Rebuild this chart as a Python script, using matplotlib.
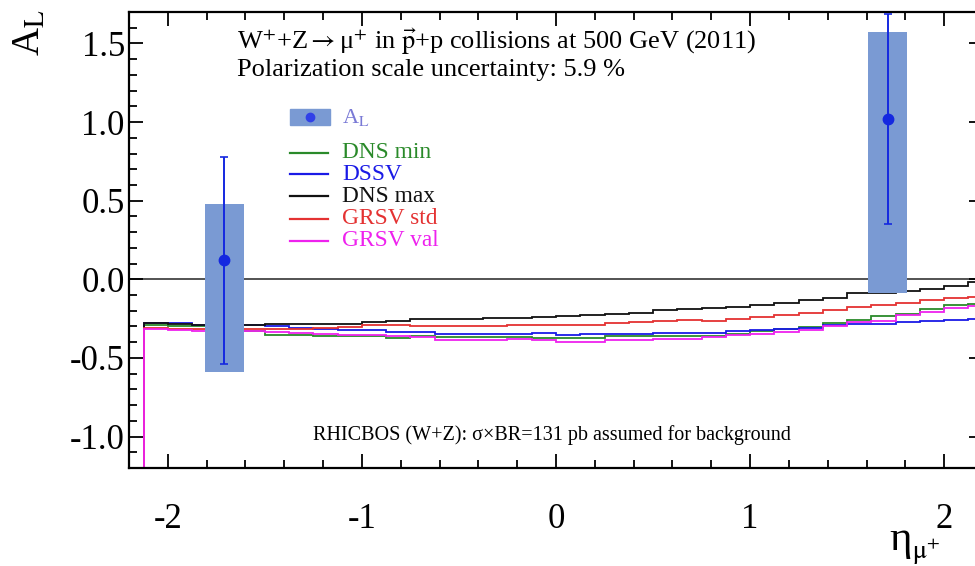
import matplotlib
matplotlib.use('Agg')
import matplotlib.pyplot as plt
from matplotlib.lines import Line2D
from matplotlib.patches import Rectangle
from matplotlib.ticker import MultipleLocator, FormatStrFormatter

plt.rcParams['font.family'] = ['Liberation Serif', 'DejaVu Serif']
plt.rcParams['mathtext.fontset'] = 'stix'

# ---------------- data ----------------
bin_edges = [-2.125, -2.0, -1.875, -1.75, -1.625, -1.5, -1.375, -1.25, -1.125, -1.0,
             -0.875, -0.75, -0.625, -0.5, -0.375, -0.25, -0.125, 0.0, 0.125, 0.25,
             0.375, 0.5, 0.625, 0.75, 0.875, 1.0, 1.125, 1.25, 1.375, 1.5,
             1.625, 1.75, 1.875, 2.0, 2.125, 2.25]

dns_max = [-0.280, -0.285, -0.290, -0.295, -0.293, -0.287, -0.285, -0.283, -0.282, -0.272,
           -0.265, -0.255, -0.255, -0.255, -0.244, -0.244, -0.240, -0.236, -0.229, -0.219,
           -0.212, -0.197, -0.190, -0.185, -0.175, -0.166, -0.149, -0.134, -0.117, -0.090,
           -0.087, -0.074, -0.060, -0.045, -0.020]
grsv_std = [-0.310, -0.315, -0.315, -0.315, -0.314, -0.314, -0.314, -0.310, -0.305, -0.293,
            -0.293, -0.300, -0.300, -0.300, -0.295, -0.289, -0.289, -0.293, -0.290, -0.276,
            -0.274, -0.268, -0.261, -0.262, -0.250, -0.240, -0.225, -0.212, -0.197, -0.176,
            -0.161, -0.149, -0.129, -0.117, -0.113]
dssv = [-0.275, -0.280, -0.290, -0.295, -0.293, -0.300, -0.310, -0.315, -0.320, -0.320,
        -0.335, -0.335, -0.346, -0.346, -0.346, -0.346, -0.342, -0.352, -0.350, -0.346,
        -0.346, -0.340, -0.340, -0.340, -0.330, -0.325, -0.314, -0.308, -0.293, -0.287,
        -0.282, -0.272, -0.268, -0.257, -0.255]
dns_min = [-0.290, -0.295, -0.300, -0.310, -0.330, -0.357, -0.357, -0.360, -0.363, -0.363,
           -0.371, -0.363, -0.367, -0.367, -0.367, -0.367, -0.371, -0.371, -0.371, -0.361,
           -0.361, -0.360, -0.358, -0.360, -0.346, -0.331, -0.318, -0.304, -0.278, -0.257,
           -0.236, -0.219, -0.187, -0.166, -0.155]
grsv_val = [-0.315, -0.320, -0.330, -0.335, -0.330, -0.335, -0.340, -0.345, -0.357, -0.357,
            -0.360, -0.365, -0.384, -0.389, -0.385, -0.380, -0.389, -0.399, -0.399, -0.389,
            -0.389, -0.378, -0.378, -0.367, -0.352, -0.346, -0.335, -0.320, -0.300, -0.272,
            -0.265, -0.229, -0.208, -0.180, -0.172]

eta_pts = [-1.71, 1.71]
al_pts = [0.12, 1.02]
stat_err = [0.66, 0.67]
sys_low = [-0.59, -0.09]
sys_high = [0.48, 1.57]

curve_names = ['DNS min', 'DSSV', 'DNS max', 'GRSV std', 'GRSV val']
curve_data = [dns_min, dssv, dns_max, grsv_std, grsv_val]
curve_colors = ['#2a8a2a', '#1a1ae6', '#111111', '#e43232', '#ee22ee']

x_ticks = [-2, -1, 0, 1, 2]
y_ticks = [-1.0, -0.5, 0.0, 0.5, 1.0, 1.5]

# ---------------- figure ----------------
W, H = 975, 566
fig = plt.figure(figsize=(W / 100, H / 100), dpi=100)
ax_l, ax_r, ax_t, ax_b = 129, 983, 12, 468
ax = fig.add_axes([ax_l / W, 1 - ax_b / H, (ax_r - ax_l) / W, (ax_b - ax_t) / H])
ax.set_xlim(-2.2, 2.2)
ax.set_ylim(-1.2, 1.7)

ax.axhline(0, color='#444444', lw=1.3, zorder=1)

for vals, col in zip(curve_data, curve_colors):
    ax.stairs(vals, bin_edges, baseline=-1.3, color=col, lw=1.3, zorder=2)

box_color = '#7a9ad3'
heights = [h - l for h, l in zip(sys_high, sys_low)]
ax.bar(eta_pts, heights, bottom=sys_low, width=0.2, color=box_color, zorder=3)
ax.errorbar(eta_pts, al_pts, yerr=stat_err, fmt='o', color='#1428e0', ms=7.5,
            elinewidth=1.4, capsize=3, capthick=1.2, zorder=4)

ax.set_xticks(x_ticks)
ax.set_yticks(y_ticks)
ax.xaxis.set_minor_locator(MultipleLocator(0.2))
ax.yaxis.set_minor_locator(MultipleLocator(0.1))
ax.xaxis.set_major_formatter(FormatStrFormatter('%d'))
ax.yaxis.set_major_formatter(FormatStrFormatter('%.1f'))
ax.tick_params(which='both', direction='in', top=True, right=True, width=1.3, colors='black')
ax.tick_params(which='major', length=10, labelsize=25)
ax.tick_params(which='minor', length=5.5)
ax.tick_params(axis='x', which='major', pad=25)
ax.tick_params(axis='y', which='major', pad=3)
for s in ax.spines.values():
    s.set_linewidth(1.6)

# axis titles
fig.text(30 / W, 1 - 9 / H, r'A$_{\mathrm{L}}$', rotation=90, fontsize=28,
         ha='center', va='top')
fig.text(889 / W, 1 - 550 / H, 'η', fontsize=31, ha='left', va='baseline')
fig.text(912 / W, 1 - 559 / H, r'$\mathrm{μ}^{+}$', fontsize=19, ha='left', va='baseline')

# header text
fig.text(237 / W, 1 - 42 / H,
         r'W$^{+}$+Z$\rightarrow$μ$^{+}$ in $\vec{\mathrm{p}}$+p collisions at 500 GeV (2011)',
         fontsize=19, ha='left', va='center')
fig.text(237 / W, 1 - 70 / H, 'Polarization scale uncertainty: 5.9 %',
         fontsize=19, ha='left', va='center')
fig.text(313 / W, 1 - 435 / H,
         'RHICBOS (W+Z): σ×BR=131 pb assumed for background',
         fontsize=14.5, ha='left', va='center')

# legend (drawn manually)
fig.add_artist(Rectangle((290 / W, 1 - 125 / H), 40 / W, 16 / H,
                         transform=fig.transFigure, color=box_color))
fig.add_artist(Line2D([310 / W], [1 - 117 / H], marker='o', color='#3040e8', ms=6,
                      transform=fig.transFigure))
fig.text(342 / W, 1 - 117 / H, r'A$_{\mathrm{L}}$', color='#7a7ad6', fontsize=16,
         ha='left', va='center')
leg_y = [153, 174, 196, 219, 241]
for name, col, yy in zip(curve_names, curve_colors, leg_y):
    fig.add_artist(Line2D([290 / W, 328 / W], [1 - yy / H, 1 - yy / H], color=col, lw=1.6,
                          transform=fig.transFigure))
    fig.text(342 / W, 1 - yy / H, name, color=col, fontsize=16.8, ha='left', va='center')

fig.savefig('out.png', dpi=100)
